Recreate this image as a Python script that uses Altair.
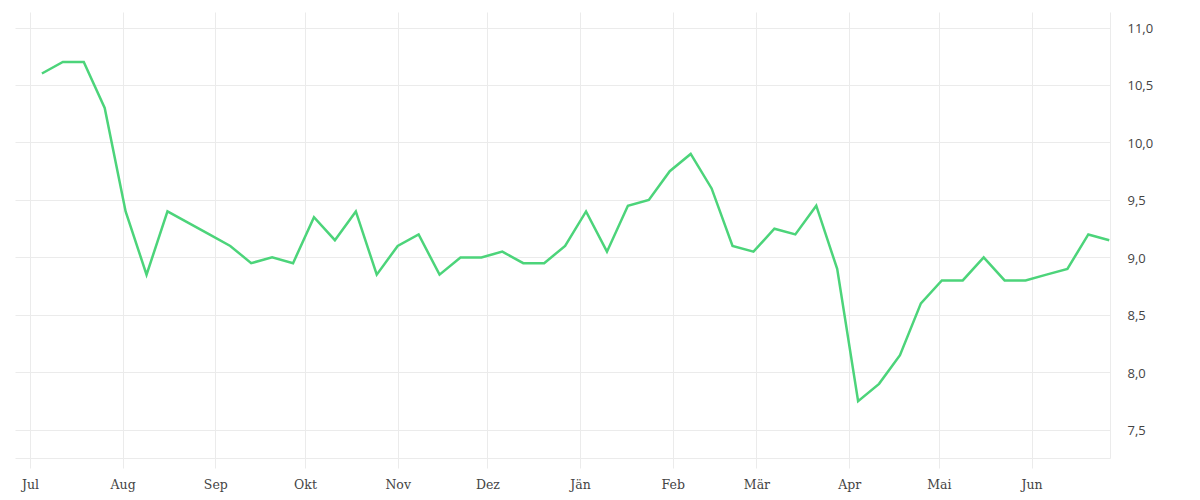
import altair as alt
import pandas as pd

dates = pd.date_range("2020-07-05", periods=52, freq="7D").strftime("%Y-%m-%d").tolist()
values = [10.6, 10.7, 10.7, 10.3, 9.4, 8.85, 9.4, 9.3, 9.2, 9.1,
          8.95, 9.0, 8.95, 9.35, 9.15, 9.4, 8.85, 9.1, 9.2, 8.85,
          9.0, 9.0, 9.05, 8.95, 8.95, 9.1, 9.4, 9.05, 9.45, 9.5,
          9.75, 9.9, 9.6, 9.1, 9.05, 9.25, 9.2, 9.45, 8.9, 7.75,
          7.9, 8.15, 8.6, 8.8, 8.8, 9.0, 8.8, 8.8, 8.85, 8.9,
          9.2, 9.15]
month_names = ["Jän", "Feb", "Mär", "Apr", "Mai", "Jun",
               "Jul", "Aug", "Sep", "Okt", "Nov", "Dez"]
y_ticks = [7.5, 8.0, 8.5, 9.0, 9.5, 10.0, 10.5, 11.0]

df = pd.DataFrame({"date": dates, "value": values})

grid = "#ebebeb"
names_js = "[" + ",".join("'" + m + "'" for m in month_names) + "]"

chart = alt.Chart(df).mark_line(color="#4cd47a", strokeWidth=2.5).encode(
    x=alt.X("date:T",
            scale=alt.Scale(type="utc",
                            domain=[alt.DateTime(year=2020, month=6, date=26, utc=True),
                                    alt.DateTime(year=2021, month=6, date=27, hours=6, utc=True)],
                            nice=False),
            axis=alt.Axis(title=None, grid=True, gridColor=grid, domainColor=grid,
                          tickColor=grid, tickSize=10, tickCount={"interval": "month", "step": 1},
                          labelExpr=names_js + "[utcmonth(datum.value)]",
                          labelFont="DejaVu Serif", labelFontSize=12.5, labelColor="#444",
                          labelPadding=10, labelFlush=False)),
    y=alt.Y("value:Q",
            scale=alt.Scale(domain=[7.255, 11.135], nice=False, zero=False),
            axis=alt.Axis(title=None, orient="right", values=y_ticks, grid=True,
                          gridColor=grid, domainColor=grid, ticks=False,
                          labelExpr="replace(format(datum.value, '.1f'), '.', ',')",
                          labelFont="Open Sans", labelFontSize=13, labelColor="#444",
                          labelPadding=17, labelBaseline="middle", labelOffset=1)),
).properties(
    width=1095, height=446,
    padding={"left": 7, "top": 4, "right": 5, "bottom": 5},
).configure_view(stroke=None)

chart.save("out.html", embed_options={"renderer": "svg", "actions": False})
